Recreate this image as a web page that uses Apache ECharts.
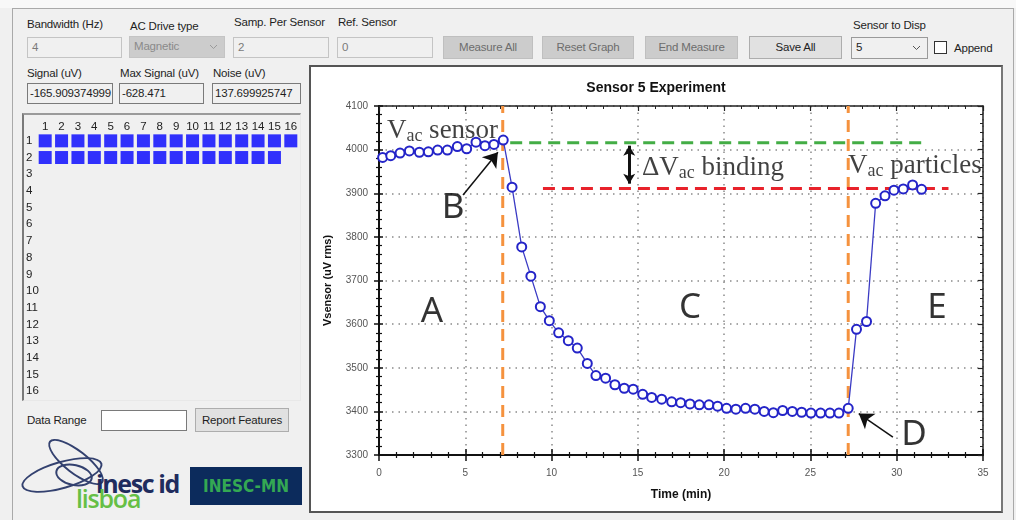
<!DOCTYPE html>
<html>
<head>
<meta charset="utf-8">
<script src="https://cdn.jsdelivr.net/npm/echarts@6.0.0/dist/echarts.min.js"></script>
<style>
  body { margin:0; width:1016px; height:520px; overflow:hidden; background:#f0f0f0; position:relative;
         font-family:'Liberation Sans', Arial, sans-serif; font-size:11.5px; color:#1e1e1e; }
  .lbl { position:absolute; white-space:nowrap; letter-spacing:-0.2px; }
  .box { position:absolute; box-sizing:border-box; border:1px solid #c4c4c4; background:#f0f0f0; color:#7a7a7a;
         padding:0 4px; line-height:19px; overflow:hidden; white-space:nowrap; letter-spacing:-0.2px; }
  .ro { border-color:#7a7a7a; color:#1e1e1e; }
  .btn { position:absolute; box-sizing:border-box; border:1px solid #bfbfbf; background:#cccccc; color:#6d6d6d;
         text-align:center; line-height:21px; letter-spacing:-0.2px; }
  .btn.on { background:#e1e1e1; border-color:#adadad; color:#1e1e1e; }
  .chev { position:absolute; right:6px; top:7px; }
  .ell { position:absolute; border:2px solid #33416f; border-radius:50%; }
  #chart { position:absolute; left:0; top:0; width:1016px; height:520px; z-index:5; pointer-events:none; }
</style>
</head>
<body>
<!-- window frame -->
<div style="position:absolute;left:0;top:0;width:1016px;height:8px;background:#f8f8f8;"></div>
<div style="position:absolute;left:12px;top:8px;width:1000px;height:520px;border-left:1px solid #a9a9a9;border-top:1px solid #a9a9a9;border-right:1px solid #a9a9a9;"></div>

<!-- row 1 controls -->
<div class="lbl" style="left:27px;top:18px;">Bandwidth (Hz)</div>
<div class="lbl" style="left:130px;top:20px;">AC Drive type</div>
<div class="lbl" style="left:234px;top:16px;">Samp. Per Sensor</div>
<div class="lbl" style="left:338px;top:16px;">Ref. Sensor</div>
<div class="box" style="left:27px;top:37px;width:95px;height:21px;">4</div>
<div class="box" style="left:129px;top:36px;width:96px;height:22px;background:#cccccc;border-color:#c4c4c4;color:#8a8a8a;">Magnetic
  <svg class="chev" width="9" height="6"><polyline points="1,1 4.5,4.5 8,1" fill="none" stroke="#9a9a9a" stroke-width="1"/></svg></div>
<div class="box" style="left:233px;top:37px;width:96px;height:21px;">2</div>
<div class="box" style="left:337px;top:37px;width:96px;height:21px;">0</div>
<div class="btn" style="left:443px;top:36px;width:90px;height:23px;">Measure All</div>
<div class="btn" style="left:542px;top:36px;width:92px;height:23px;">Reset Graph</div>
<div class="btn" style="left:645px;top:36px;width:93px;height:23px;">End Measure</div>
<div class="btn on" style="left:749px;top:36px;width:93px;height:23px;">Save All</div>
<div class="lbl" style="left:853px;top:19px;">Sensor to Disp</div>
<div class="box ro" style="left:851px;top:37px;width:77px;height:22px;border-color:#9a9a9a;">5
  <svg class="chev" width="9" height="6"><polyline points="1,1 4.5,4.5 8,1" fill="none" stroke="#555" stroke-width="1"/></svg></div>
<div style="position:absolute;left:934px;top:41px;width:13px;height:13px;box-sizing:border-box;border:1px solid #333;background:#fff;"></div>
<div class="lbl" style="left:954px;top:42px;">Append</div>

<!-- row 2 readouts -->
<div class="lbl" style="left:27px;top:67px;">Signal (uV)</div>
<div class="lbl" style="left:120px;top:67px;">Max Signal (uV)</div>
<div class="lbl" style="left:213px;top:67px;">Noise (uV)</div>
<div class="box ro" style="left:27px;top:83px;width:86px;height:21px;padding:0 2px;">-165.909374999</div>
<div class="box ro" style="left:119px;top:83px;width:85px;height:21px;padding:0 2px;">-628.471</div>
<div class="box ro" style="left:212px;top:83px;width:89px;height:21px;padding:0 2px;">137.699925747</div>

<!-- sensor matrix panel -->
<div style="position:absolute;left:22px;top:113px;width:279px;height:288px;box-sizing:border-box;border:1px solid #e8e8e8;border-left:2px solid #7a7a7a;border-top:2px solid #9a9a9a;background:#f0f0f0;"></div>

<!-- bottom-left controls -->
<div class="lbl" style="left:27px;top:414px;">Data Range</div>
<div class="box ro" style="left:101px;top:410px;width:86px;height:21px;background:#fff;"></div>
<div class="btn on" style="left:195px;top:408px;width:94px;height:24px;line-height:22px;">Report Features</div>

<!-- logos -->
<div class="ell" style="left:20px;top:461px;width:80px;height:24px;transform:rotate(-16deg);"></div>
<div class="ell" style="left:42px;top:450px;width:64px;height:20px;transform:rotate(38deg);"></div>
<div class="ell" style="left:55px;top:464px;width:34px;height:18px;transform:rotate(12deg);"></div>
<div class="lbl" style="left:96px;top:466px;font-family:'Open Sans',sans-serif;font-weight:700;font-size:25px;color:#1f2c5e;letter-spacing:-1.4px;">inesc id</div>
<div class="lbl" style="left:76px;top:481px;font-family:'Open Sans',sans-serif;font-weight:600;font-size:25px;color:#66bf45;letter-spacing:-1.2px;">lisboa</div>
<div style="position:absolute;left:190px;top:467px;width:112px;height:38px;background:#0c2b5c;color:#34a853;font-family:'DejaVu Sans Condensed','DejaVu Sans',sans-serif;font-weight:bold;font-size:17px;line-height:38px;text-align:center;">INESC-MN</div>

<!-- chart panel -->
<div style="position:absolute;left:309px;top:65px;width:694px;height:448px;box-sizing:border-box;border:2px solid #555;border-right-color:#777;background:#fff;"></div>

<div id="chart"></div>
<script>
// sensor reading over time (min, uV rms)
const timeMin = [0.21, 0.68, 1.22, 1.76, 2.34, 2.86, 3.40, 3.96, 4.54, 5.08, 5.62, 6.14, 6.66, 7.20,
  7.71, 8.27, 8.80, 9.35, 9.87, 10.41, 10.97, 11.49, 12.07, 12.57, 13.13, 13.67, 14.21, 14.73, 15.28,
  15.80, 16.38, 16.96, 17.48, 18.02, 18.56, 19.12, 19.62, 20.14, 20.68, 21.24, 21.78, 22.32, 22.85,
  23.39, 23.95, 24.49, 25.03, 25.59, 26.13, 26.65, 27.19,
  27.67, 28.25, 28.78, 29.32, 29.84, 30.38, 30.92, 31.44];
const vSensor = [3982, 3986, 3992, 3997, 3994, 3995, 3999, 3999, 4007, 4002, 4017, 4009, 4012, 4022,
  3914, 3777, 3710, 3640, 3608, 3580, 3562, 3545, 3510, 3482, 3476, 3461, 3453, 3451, 3439,
  3432, 3428, 3422, 3420, 3417, 3415, 3415, 3412, 3407, 3405, 3407, 3405, 3400, 3397,
  3402, 3400, 3398, 3396, 3396, 3396, 3396, 3407,
  3588, 3606, 3877, 3894, 3907, 3910, 3919, 3909];

// phase boundaries and reference levels
const phaseTimes = [7.17, 27.19];
const sensorLevel = 4016;
const sensorSpan = [5.4, 31.7];
const particleLevel = 3911;
const particleSpan = [9.5, 33.0];
const deltaAt = 14.5;

// sensor matrix (rows x columns), 1 = active
const colLabels = ['1','2','3','4','5','6','7','8','9','10','11','12','13','14','15','16'];
const rowLabels = ['1','2','3','4','5','6','7','8','9','10','11','12','13','14','15','16'];
const sensorState = [
  [1,1,1,1,1,1,1,1,1,1,1,1,1,1,1,1],
  [1,1,1,1,1,1,1,1,1,1,1,1,1,1,1,0],
  [0,0,0,0,0,0,0,0,0,0,0,0,0,0,0,0],
  [0,0,0,0,0,0,0,0,0,0,0,0,0,0,0,0],
  [0,0,0,0,0,0,0,0,0,0,0,0,0,0,0,0],
  [0,0,0,0,0,0,0,0,0,0,0,0,0,0,0,0],
  [0,0,0,0,0,0,0,0,0,0,0,0,0,0,0,0],
  [0,0,0,0,0,0,0,0,0,0,0,0,0,0,0,0],
  [0,0,0,0,0,0,0,0,0,0,0,0,0,0,0,0],
  [0,0,0,0,0,0,0,0,0,0,0,0,0,0,0,0],
  [0,0,0,0,0,0,0,0,0,0,0,0,0,0,0,0],
  [0,0,0,0,0,0,0,0,0,0,0,0,0,0,0,0],
  [0,0,0,0,0,0,0,0,0,0,0,0,0,0,0,0],
  [0,0,0,0,0,0,0,0,0,0,0,0,0,0,0,0],
  [0,0,0,0,0,0,0,0,0,0,0,0,0,0,0,0],
  [0,0,0,0,0,0,0,0,0,0,0,0,0,0,0,0]
];

var cells = [];
sensorState.forEach(function (row, r) {
  row.forEach(function (on, c) { if (on) cells.push([c, r]); });
});
var points = timeMin.map(function (t, i) { return [t, vSensor[i]]; });

var sans = 'Liberation Sans';
var serif = 'Liberation Serif';
var letter = { fontFamily: 'Noto Sans', fontSize: 35, color: '#000' };
var rich = {
  v: { fontFamily: serif, fontSize: 27, color: '#111', height: 28, lineHeight: 28, verticalAlign: 'bottom' },
  s: { fontFamily: serif, fontSize: 18, color: '#111', height: 17, lineHeight: 17, verticalAlign: 'bottom' }
};
var dashed = function (color) { return { color: color, width: 3, type: [12, 7] }; };
var tickTxt = { fontSize: 10, color: '#555', fontFamily: sans, formatter: function (v) { return String(v); } };

var chart = echarts.init(document.getElementById('chart'), null, { renderer: 'canvas' });
chart.setOption({
  animation: false,
  backgroundColor: 'transparent',
  graphic: [{
    type: 'text', x: 656, y: 88,
    style: { text: 'Sensor 5 Experiment', align: 'center', verticalAlign: 'middle',
             font: 'bold 14px "Liberation Sans"', fill: '#111' }
  }],
  grid: [
    { left: 379, top: 106, width: 604, height: 349, outerBoundsMode: 'none' },
    { left: 37, top: 132.5, width: 262, height: 267, outerBoundsMode: 'none' },
    { left: 379, top: 106, width: 604, height: 349, outerBoundsMode: 'none' }
  ],
  xAxis: [
    { gridIndex: 0, type: 'value', min: 0, max: 35, interval: 5, position: 'bottom',
      axisLine: { onZero: false, lineStyle: { color: '#111', width: 2 } },
      axisTick: { inside: true, length: 6, lineStyle: { color: '#111', width: 1.5 } },
      minorTick: { show: true, splitNumber: 5, length: 3, lineStyle: { color: '#111', width: 1.2 } },
      axisLabel: Object.assign({ margin: 13 }, tickTxt),
      splitLine: { show: true, lineStyle: { color: '#8a8a8a', width: 1.5, type: [1.5, 5] } },
      name: 'Time (min)', nameLocation: 'middle', nameGap: 34,
      nameTextStyle: { fontFamily: sans, fontSize: 12, fontWeight: 'bold', color: '#111' } },
    { gridIndex: 0, type: 'value', min: 0, max: 35, interval: 5, position: 'top',
      axisLine: { onZero: false, lineStyle: { color: '#222', width: 1.5 } },
      axisTick: { inside: true, length: 5, lineStyle: { color: '#222', width: 1.2 } },
      minorTick: { show: true, splitNumber: 5, length: 3, lineStyle: { color: '#222' } },
      axisLabel: { show: false }, splitLine: { show: false } },
    { gridIndex: 1, type: 'category', data: colLabels, position: 'top',
      axisLine: { show: false }, axisTick: { show: false }, splitLine: { show: false },
      axisLabel: { interval: 0, margin: 0, fontSize: 11.5, color: '#222', fontFamily: sans } },
    { gridIndex: 2, type: 'value', min: 0, max: 35, interval: 5, position: 'bottom',
      axisLine: { show: false },
      axisTick: { inside: false, length: 6, lineStyle: { color: '#111', width: 1.5 } },
      minorTick: { show: true, splitNumber: 5, length: 3, lineStyle: { color: '#111', width: 1.2 } },
      axisLabel: { show: false }, splitLine: { show: false } }
  ],
  yAxis: [
    { gridIndex: 0, type: 'value', min: 3300, max: 4100, interval: 100, position: 'left',
      axisLine: { onZero: false, lineStyle: { color: '#111', width: 2 } },
      axisTick: { inside: true, length: 4, lineStyle: { color: '#111', width: 1.5 } },
      minorTick: { show: true, splitNumber: 5, length: 3, lineStyle: { color: '#111', width: 1.2 } },
      axisLabel: Object.assign({ margin: 11 }, tickTxt),
      splitLine: { show: true, lineStyle: { color: '#8a8a8a', width: 1.5, type: [1.5, 5] } },
      name: 'Vsensor (uV rms)', nameLocation: 'middle', nameGap: 46,
      nameTextStyle: { fontFamily: sans, fontSize: 11, fontWeight: 'bold', color: '#111' } },
    { gridIndex: 0, type: 'value', min: 3300, max: 4100, interval: 100, position: 'right',
      axisLine: { onZero: false, lineStyle: { color: '#222', width: 1.5 } },
      axisTick: { inside: true, length: 5, lineStyle: { color: '#222', width: 1.2 } },
      minorTick: { show: true, splitNumber: 5, length: 3, lineStyle: { color: '#222' } },
      axisLabel: { show: false }, splitLine: { show: false } },
    { gridIndex: 1, type: 'category', data: rowLabels, inverse: true, position: 'left',
      axisLine: { show: false }, axisTick: { show: false }, splitLine: { show: false },
      axisLabel: { interval: 0, margin: 11, align: 'left', fontSize: 11.5, color: '#222', fontFamily: sans } },
    { gridIndex: 2, type: 'value', min: 3300, max: 4100, interval: 100, position: 'left',
      axisLine: { show: false },
      axisTick: { inside: false, length: 5, lineStyle: { color: '#111', width: 1.5 } },
      minorTick: { show: true, splitNumber: 5, length: 3, lineStyle: { color: '#111', width: 1.2 } },
      axisLabel: { show: false }, splitLine: { show: false } }
  ],
  series: [
    { type: 'line', xAxisIndex: 0, yAxisIndex: 0, symbol: 'none', z: 3,
      data: [[phaseTimes[0], 3300], [phaseTimes[0], 4100]], lineStyle: dashed('#f5923e') },
    { type: 'line', xAxisIndex: 0, yAxisIndex: 0, symbol: 'none', z: 3,
      data: [[phaseTimes[1], 3300], [phaseTimes[1], 4100]], lineStyle: dashed('#f5923e') },
    { type: 'line', xAxisIndex: 0, yAxisIndex: 0, symbol: 'none', z: 3,
      data: [[sensorSpan[0], sensorLevel], [sensorSpan[1], sensorLevel]], lineStyle: dashed('#43ad45') },
    { type: 'line', xAxisIndex: 0, yAxisIndex: 0, symbol: 'none', z: 3,
      data: [[particleSpan[0], particleLevel], [particleSpan[1], particleLevel]], lineStyle: dashed('#e8222b') },
    { type: 'line', xAxisIndex: 0, yAxisIndex: 0, data: points, z: 5,
      symbol: 'emptyCircle', symbolSize: 9, showAllSymbol: true,
      lineStyle: { color: '#3b3bc4', width: 1.3 },
      itemStyle: { color: '#2424c8', borderColor: '#2424c8', borderWidth: 1.6 } },
    // pointer arrows to points B and D, and the delta double-arrow
    { type: 'line', xAxisIndex: 0, yAxisIndex: 0, data: [], z: 6,
      markLine: { silent: true, symbol: ['none', 'arrow'], symbolSize: 14, label: { show: false },
        lineStyle: { color: '#111', width: 1.5, type: 'solid' },
        data: [[{ coord: [4.87, 3896] }, { coord: [6.89, 3994] }],
               [{ coord: [29.78, 3341] }, { coord: [27.8, 3395] }]] } },
    { type: 'line', xAxisIndex: 0, yAxisIndex: 0, data: [], z: 6,
      markLine: { silent: true, symbol: ['arrow', 'arrow'], symbolSize: [9, 10], label: { show: false },
        lineStyle: { color: '#111', width: 3, type: 'solid' },
        data: [[{ coord: [deltaAt, 4009] }, { coord: [deltaAt, 3922] }]] } },
    // annotation text
    { type: 'scatter', xAxisIndex: 0, yAxisIndex: 0, symbolSize: 1, z: 7,
      itemStyle: { color: 'transparent' },
      label: { show: true, position: 'inside', rich: rich },
      data: [
        { value: [3.07, 3628], label: Object.assign({ formatter: 'A' }, letter) },
        { value: [4.3, 3866], label: Object.assign({ formatter: 'B' }, letter) },
        { value: [18.02, 3636], label: Object.assign({ formatter: 'C' }, letter) },
        { value: [31.0, 3346], label: Object.assign({ formatter: 'D' }, letter) },
        { value: [32.33, 3636], label: Object.assign({ formatter: 'E' }, letter) },
        { value: [3.68, 4044], label: { formatter: '{v|V}{s|ac}{v| sensor}' } },
        { value: [19.35, 3958], label: { formatter: '{v|ΔV}{s|ac}{v| binding}' } },
        { value: [31.05, 3962], label: { formatter: '{v|V}{s|ac}{v| particles}' } }
      ] },
    // sensor matrix cells
    { type: 'scatter', xAxisIndex: 2, yAxisIndex: 2, data: cells, symbol: 'rect', symbolSize: 13,
      itemStyle: { color: '#0000ff' } }
  ]
});
</script>
</body>
</html>
